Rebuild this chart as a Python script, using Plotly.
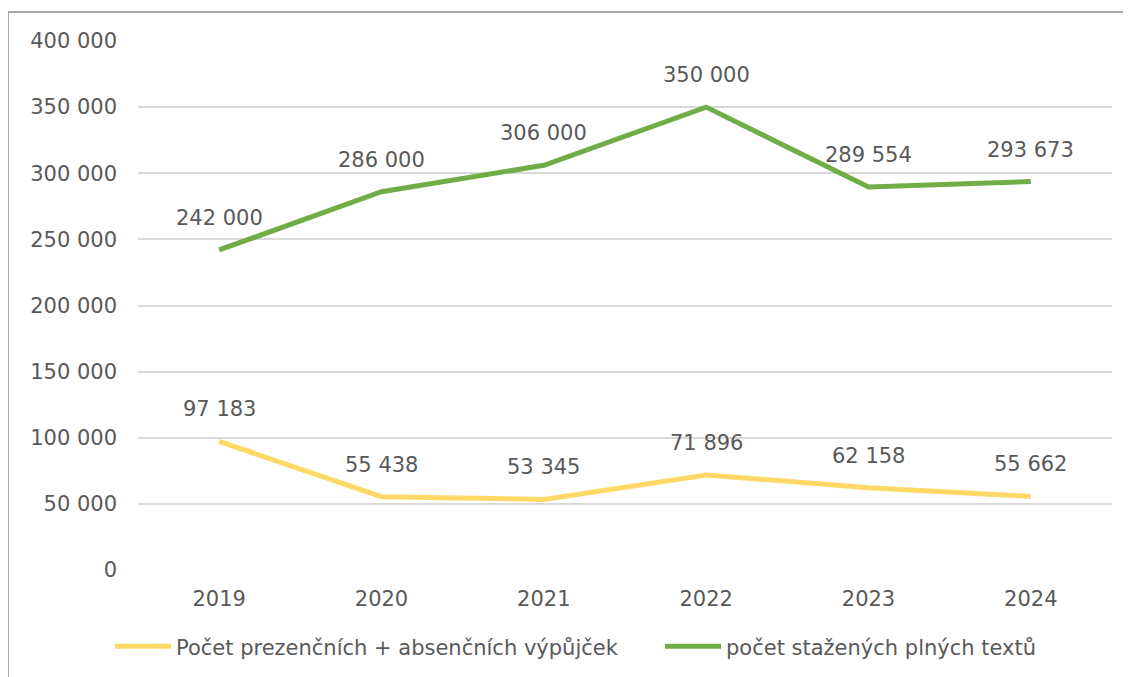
import plotly.graph_objects as go

years = [2019, 2020, 2021, 2022, 2023, 2024]
vypujcky = [97183, 55438, 53345, 71896, 62158, 55662]
stazene = [242000, 286000, 306000, 350000, 289554, 293673]
name_vyp = "Počet prezenčních + absenčních výpůjček"
name_sta = "počet stažených plných textů"
y_ticks = [0, 50000, 100000, 150000, 200000, 250000, 300000, 350000, 400000]

FONT = "DejaVu Sans"
FS = 21
TXT = "#595959"
OFF = 8  # page body margin
W, H = 1131 - OFF, 677 - OFF
ML, MR, MT, MB = 138 - OFF, 19, 41 - OFF, 107

def fmt(v):
    return f"{v:,}".replace(",", " ")

fig = go.Figure()
fig.add_trace(go.Scatter(x=years, y=vypujcky, mode="lines", name=name_vyp,
                         line=dict(color="#FFD966", width=5), legend="legend"))
fig.add_trace(go.Scatter(x=years, y=stazene, mode="lines", name=name_sta,
                         line=dict(color="#70AD47", width=5), legend="legend2"))

annotations = []
for series in (vypujcky, stazene):
    for x, v in zip(years, series):
        annotations.append(dict(x=x, y=v, xref="x", yref="y", text=fmt(v),
                                showarrow=False, yshift=32,
                                font=dict(family=FONT, size=FS, color=TXT)))

pw = W - ML - MR
ph = H - MT - MB
bx = (8 - OFF - ML) / pw
by = (H - MB - (12 - OFF)) / ph
shapes = [
    dict(type="line", xref="paper", yref="paper", x0=bx, x1=bx, y0=by, y1=-2,
         line=dict(color="#8c8c8c", width=1.5)),
    dict(type="line", xref="paper", yref="paper", x0=bx, x1=2, y0=by, y1=by,
         line=dict(color="#8c8c8c", width=1.5)),
]

def px2x(p):
    return (p - OFF - ML) / pw

leg_common = dict(orientation="h", xanchor="left", y=-0.145, yanchor="middle",
                  font=dict(family=FONT, size=FS, color=TXT), itemwidth=56,
                  bgcolor="rgba(0,0,0,0)")

fig.update_layout(
    width=W, height=H,
    margin=dict(l=ML, r=MR, t=MT, b=MB, autoexpand=False),
    paper_bgcolor="white", plot_bgcolor="white",
    separators=", ",
    font=dict(family=FONT, size=FS, color=TXT),
    showlegend=True,
    legend=dict(x=px2x(110), **leg_common),
    legend2=dict(x=px2x(660), **leg_common),
    annotations=annotations,
    shapes=shapes,
)
fig.update_xaxes(range=[2018.5, 2024.5], tickvals=years, showgrid=False, zeroline=False,
                 showline=False, ticks="", ticklabelstandoff=14,
                 tickfont=dict(family=FONT, size=FS, color=TXT))
fig.update_yaxes(range=[0, 400000], tickvals=y_ticks, tickformat=",d",
                 showgrid=True, gridcolor="#d9d9d9", gridwidth=1.5, zeroline=False,
                 showline=False, ticks="", ticklabelstandoff=20,
                 tickfont=dict(family=FONT, size=FS, color=TXT))

fig.write_html("out.html")
